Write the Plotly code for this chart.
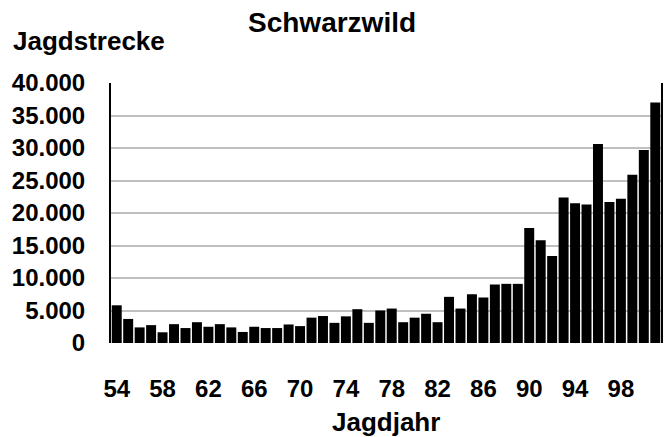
import plotly.graph_objects as go

years = list(range(1954, 2002))
strecke = [5800, 3700, 2400, 2750, 1650, 2900, 2300, 3200, 2500, 2900,
           2400, 1700, 2500, 2300, 2300, 2850, 2600, 3900, 4150, 3100,
           4100, 5200, 3100, 5000, 5300, 3200, 3900, 4500, 3200, 7100,
           5300, 7500, 7000, 9000, 9100, 9100, 17700, 15800, 13400, 22400,
           21500, 21300, 30600, 21700, 22200, 25900, 29700, 37000]
x_tickvals = list(range(1954, 2002, 4))
x_ticktext = ["54", "58", "62", "66", "70", "74", "78", "82", "86", "90", "94", "98"]
y_tickvals = [0, 5000, 10000, 15000, 20000, 25000, 30000, 35000, 40000]
y_ticktext = ["0", "5.000", "10.000", "15.000", "20.000", "25.000", "30.000", "35.000", "40.000"]

FONT = "Liberation Sans, Arial, sans-serif"

fig = go.Figure(go.Bar(x=years, y=strecke, marker=dict(color="black", line=dict(width=0))))

fig.update_layout(
    width=664, height=437,
    margin=dict(l=111, r=1, t=83, b=94),
    paper_bgcolor="white", plot_bgcolor="white",
    bargap=0.13,
    showlegend=False,
    font=dict(family=FONT, color="black"),
    xaxis=dict(range=[1953.5, 2001.5], tickvals=x_tickvals, ticktext=x_ticktext,
               showgrid=False, zeroline=False, showline=False, ticks="",
               tickfont=dict(family=FONT, size=24, weight="bold", color="black"),
               ticklabelstandoff=29),
    yaxis=dict(range=[0, 40000], tickvals=y_tickvals, ticktext=y_ticktext,
               showgrid=True, gridcolor="#c0c0c0", gridwidth=2, zeroline=False,
               showline=True, linecolor="black", linewidth=2, mirror=True, ticks="",
               tickfont=dict(family=FONT, size=24, weight="bold", color="black"),
               ticklabelstandoff=19),
    annotations=[
        dict(text="Schwarzwild", xref="paper", yref="paper", x=0.402, y=1.231,
             xanchor="center", yanchor="middle", showarrow=False,
             font=dict(family=FONT, size=28, weight="bold", color="black")),
        dict(text="Jagdstrecke", xref="paper", yref="paper", x=-0.181, y=1.162,
             xanchor="left", yanchor="middle", showarrow=False,
             font=dict(family=FONT, size=26, weight="bold", color="black")),
        dict(text="Jagdjahr", xref="paper", yref="paper", x=0.5, y=-0.302,
             xanchor="center", yanchor="middle", showarrow=False,
             font=dict(family=FONT, size=26, weight="bold", color="black")),
    ],
)

fig.write_html("out.html", config={"displayModeBar": False},
               post_script="document.body.style.margin='0';")
